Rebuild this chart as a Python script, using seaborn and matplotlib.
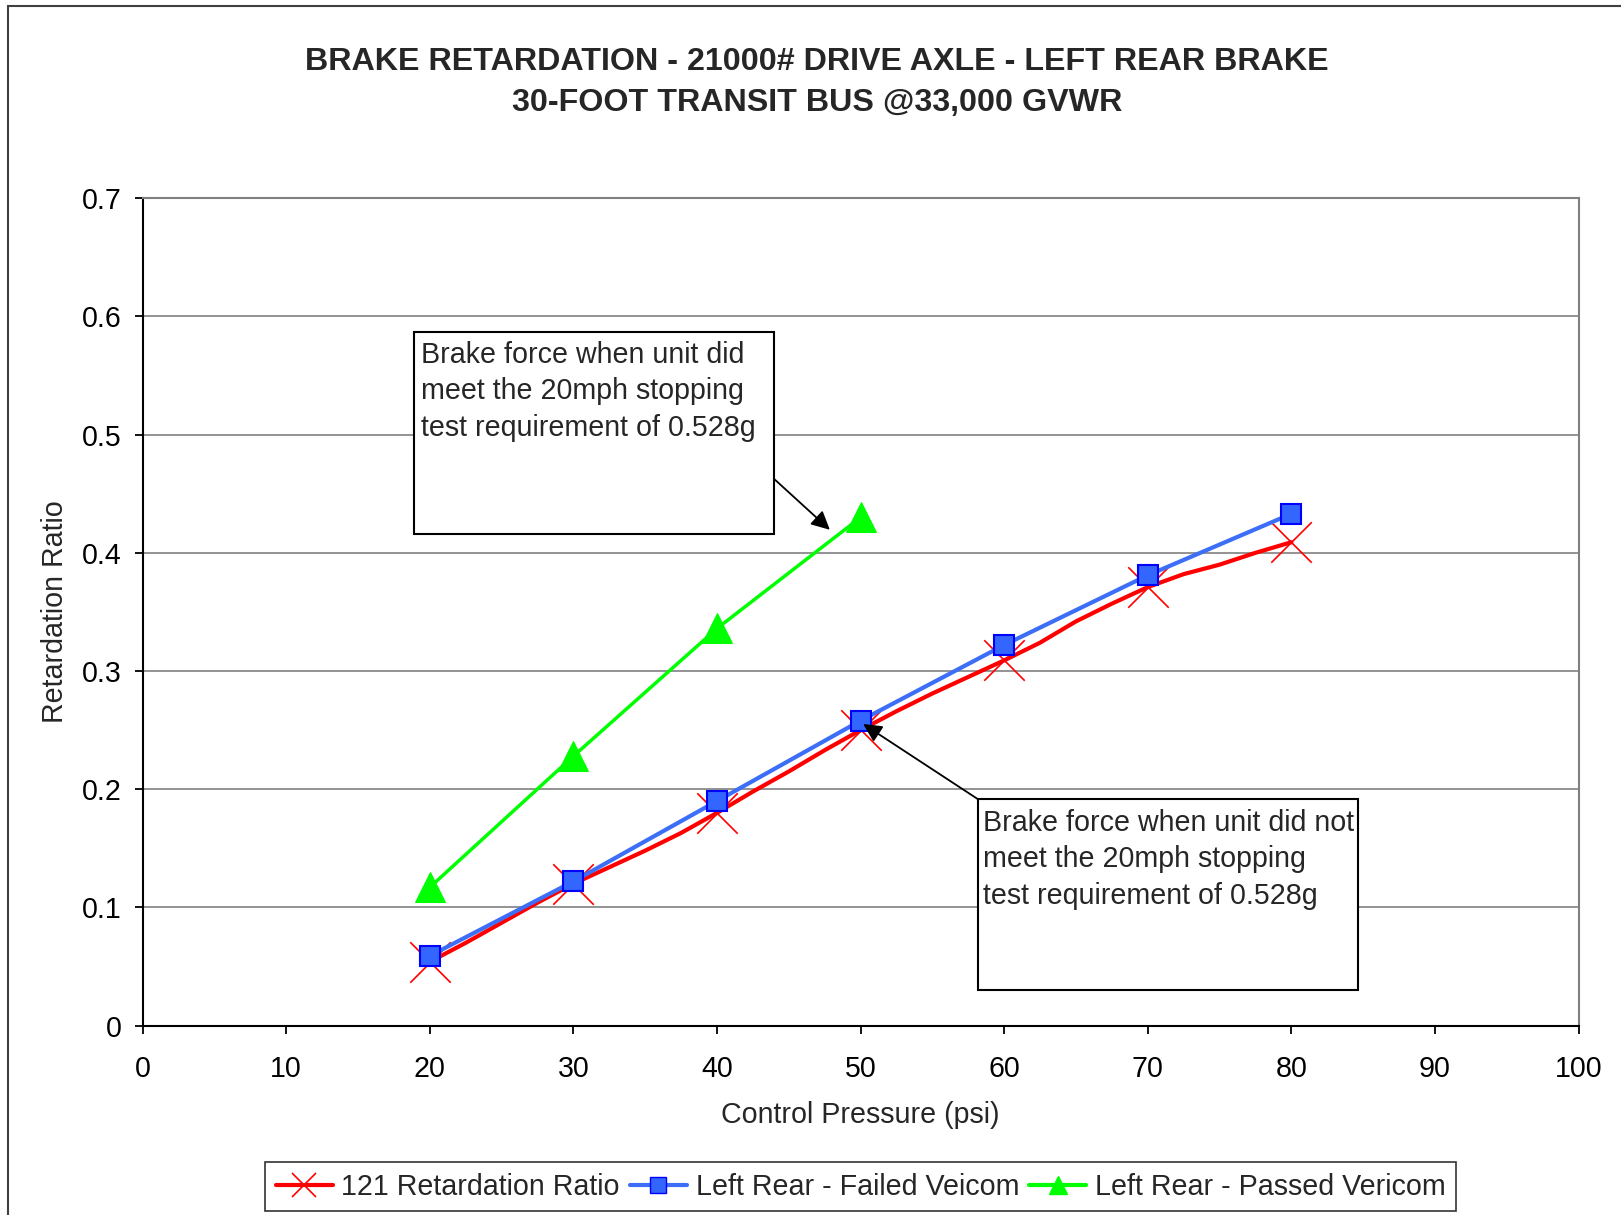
import matplotlib
matplotlib.use("Agg")
import matplotlib.pyplot as plt
import seaborn as sns
from matplotlib.lines import Line2D
from matplotlib.patches import Rectangle

# datos
pressure = [20, 30, 40, 50, 60, 70, 80]
red_ratio = [0.054, 0.120, 0.180, 0.250, 0.309, 0.371, 0.409]
blue_ratio = [0.059, 0.122, 0.190, 0.258, 0.322, 0.381, 0.433]
green_pressure = [20, 30, 40, 50]
green_ratio = [0.117, 0.228, 0.336, 0.430]

# la linea roja del original tiene puntos intermedios (linea suavizada)
red_line_x = [20, 22.5, 25, 27.5, 30, 32.5, 35, 37.5, 40, 42.5, 45, 47.5, 50,
              52.5, 55, 57.5, 60, 62.5, 65, 67.5, 70, 72.5, 75, 77.5, 80]
red_line_y = [0.054, 0.070, 0.087, 0.104, 0.120, 0.134, 0.148, 0.163, 0.180,
              0.198, 0.215, 0.233, 0.250, 0.266, 0.281, 0.295, 0.309, 0.324,
              0.342, 0.357, 0.371, 0.382, 0.390, 0.400, 0.409]

series_labels = ["121 Retardation Ratio", "Left Rear - Failed Veicom",
                 "Left Rear - Passed Vericom"]
x_ticks = [0, 10, 20, 30, 40, 50, 60, 70, 80, 90, 100]
y_ticks = [0, 0.1, 0.2, 0.3, 0.4, 0.5, 0.6, 0.7]
y_tick_labels = ["0", "0.1", "0.2", "0.3", "0.4", "0.5", "0.6", "0.7"]

note_pass = "Brake force when unit did\nmeet the 20mph stopping\ntest requirement of 0.528g"
note_fail = "Brake force when unit did not\nmeet the 20mph stopping\ntest requirement of 0.528g"

RED = "#FF0000"
BLUE_LINE = "#3D6EF7"
BLUE_FILL = "#3366FF"
BLUE_EDGE = "#0000FF"
GREEN = "#00FF00"
FS = 20.6

sns.set_style("ticks")
plt.rcParams['font.family'] = ['Liberation Sans', 'DejaVu Sans']

fig = plt.figure(figsize=(16.21, 12.15), dpi=100)
ax = fig.add_axes([0.0880, 0.1559, 0.8858, 0.6809])

# marco exterior del grafico
fig.patches.append(Rectangle((8 / 1621, -0.1), 1.2, 1.1 - 6 / 1215,
                             transform=fig.transFigure, fill=False,
                             edgecolor="#404040", linewidth=1.5, zorder=0))

# series
sns.lineplot(x=red_line_x, y=red_line_y, color=RED, linewidth=3, ax=ax,
             estimator=None, sort=False, zorder=3)
sns.scatterplot(x=pressure, y=red_ratio, marker="x", s=850, color=RED,
                linewidth=1.2, ax=ax, zorder=4)
sns.lineplot(x=pressure, y=blue_ratio, color=BLUE_LINE, linewidth=3,
             marker="s", markersize=14.5, markerfacecolor=BLUE_FILL,
             markeredgecolor=BLUE_EDGE, markeredgewidth=1.5, ax=ax,
             estimator=None, zorder=5)
sns.lineplot(x=green_pressure, y=green_ratio, color=GREEN, linewidth=2.5,
             marker="^", markersize=21, markerfacecolor=GREEN,
             markeredgecolor=GREEN, ax=ax, estimator=None, zorder=6)

ax.set_xlim(0, 100)
ax.set_ylim(0, 0.7)
ax.set_xticks(x_ticks)
ax.set_yticks(y_ticks)
ax.set_yticklabels(y_tick_labels)
ax.yaxis.grid(True, color="#808080", linewidth=1.2)
ax.xaxis.grid(False)
ax.set_axisbelow(True)

for side in ["left", "bottom"]:
    ax.spines[side].set_color("black")
    ax.spines[side].set_linewidth(1.5)
for side in ["top", "right"]:
    ax.spines[side].set_visible(True)
    ax.spines[side].set_color("#808080")
    ax.spines[side].set_linewidth(1.5)

ax.tick_params(axis="both", direction="out", length=6, width=1.3,
               colors="black", labelsize=FS)
ax.tick_params(axis="x", pad=15)
ax.tick_params(axis="y", pad=9)

ax.set_xlabel("Control Pressure (psi)", fontsize=FS, labelpad=13)
ax.set_ylabel("Retardation Ratio", fontsize=FS, labelpad=9)

# titulo
fig.text(817 / 1621, 1 - 62 / 1215,
         "BRAKE RETARDATION - 21000# DRIVE AXLE - LEFT REAR BRAKE",
         ha="center", va="center", fontsize=23.2, fontweight="bold")
fig.text(817 / 1621, 1 - 103 / 1215, "30-FOOT TRANSIT BUS @33,000 GVWR",
         ha="center", va="center", fontsize=23.2, fontweight="bold")

# cuadros de notas
ax.add_patch(Rectangle((18.93, 0.416), 43.99 - 18.93, 0.5865 - 0.416,
                       fill=True, facecolor="white", edgecolor="black",
                       linewidth=1.5, zorder=7))
ax.text(19.36, 0.5795, note_pass, ha="left", va="top", fontsize=FS,
        linespacing=1.39, zorder=8)
ax.annotate("", xy=(47.86, 0.4195), xytext=(43.99, 0.4624),
            arrowprops=dict(arrowstyle="-|>", color="black", lw=1.3,
                            mutation_scale=28, shrinkA=0, shrinkB=0),
            zorder=8)

ax.add_patch(Rectangle((58.18, 0.0298), 84.67 - 58.18, 0.1915 - 0.0298,
                       fill=True, facecolor="white", edgecolor="black",
                       linewidth=1.5, zorder=7))
ax.text(58.55, 0.1835, note_fail, ha="left", va="top", fontsize=FS,
        linespacing=1.39, zorder=8)
ax.annotate("", xy=(50.18, 0.2552), xytext=(58.18, 0.1915),
            arrowprops=dict(arrowstyle="-|>", color="black", lw=1.3,
                            mutation_scale=28, shrinkA=0, shrinkB=0),
            zorder=8)

# leyenda
handles = [
    Line2D([], [], color=RED, linewidth=3, marker="x", markersize=17,
           markeredgewidth=1.2),
    Line2D([], [], color=BLUE_LINE, linewidth=3, marker="s", markersize=11,
           markerfacecolor=BLUE_FILL, markeredgecolor=BLUE_EDGE),
    Line2D([], [], color=GREEN, linewidth=3, marker="^", markersize=13),
]
leg = fig.legend(handles, series_labels, loc="lower center",
                 bbox_to_anchor=(860.6 / 1621, 4 / 1215), ncol=3,
                 frameon=True, fancybox=False, edgecolor="black",
                 fontsize=FS, handlelength=2.0, handletextpad=0.3,
                 columnspacing=0.35, borderpad=0.36, borderaxespad=0)
leg.get_frame().set_linewidth(1.2)

plt.savefig("out.png", dpi=100)
